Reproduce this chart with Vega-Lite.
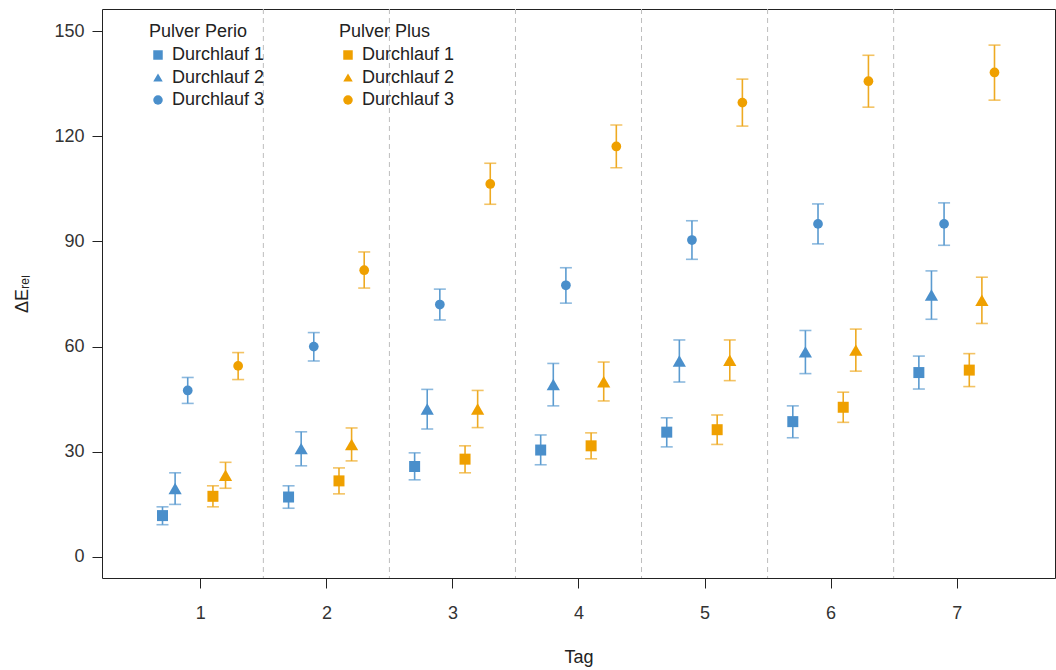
{
  "$schema": "https://vega.github.io/schema/vega-lite/v6.json",
  "autosize": "none",
  "width": 953,
  "height": 569,
  "padding": {"left": 102, "top": 9, "right": 1, "bottom": 92},
  "background": "white",
  "config": {
    "font": "Liberation Sans",
    "view": {"stroke": "#222222", "strokeWidth": 1},
    "axis": {"grid": false, "domain": false, "tickColor": "#222222", "tickSize": 10, "labelFont": "Liberation Sans", "labelFontSize": 18, "labelColor": "#333333", "titleFont": "Liberation Sans", "titleFontSize": 18, "titleFontWeight": "normal", "titleColor": "#222222"},
    "legend": {"labelFont": "Liberation Sans", "labelFontSize": 18, "labelColor": "#222222", "titleFont": "Liberation Sans", "titleFontSize": 18, "titleFontWeight": "normal", "titleColor": "#222222", "symbolSize": 90, "rowPadding": 4.5, "labelOffset": 5, "titlePadding": 5, "padding": 0}
  },
  "datasets": {
    "sep": [{"s": 1.5}, {"s": 2.5}, {"s": 3.5}, {"s": 4.5}, {"s": 5.5}, {"s": 6.5}],
    "pts": [
      {"tag": 1, "group": "Pulver Perio", "lauf": "Durchlauf 1", "run": 1, "mean": 11.8, "lo": 9.2, "hi": 14.3},
      {"tag": 1, "group": "Pulver Perio", "lauf": "Durchlauf 2", "run": 2, "mean": 19.5, "lo": 15.0, "hi": 24.0},
      {"tag": 1, "group": "Pulver Perio", "lauf": "Durchlauf 3", "run": 3, "mean": 47.5, "lo": 43.8, "hi": 51.2},
      {"tag": 2, "group": "Pulver Perio", "lauf": "Durchlauf 1", "run": 1, "mean": 17.1, "lo": 13.9, "hi": 20.3},
      {"tag": 2, "group": "Pulver Perio", "lauf": "Durchlauf 2", "run": 2, "mean": 30.9, "lo": 26.0, "hi": 35.7},
      {"tag": 2, "group": "Pulver Perio", "lauf": "Durchlauf 3", "run": 3, "mean": 60.0, "lo": 55.9, "hi": 64.0},
      {"tag": 3, "group": "Pulver Perio", "lauf": "Durchlauf 1", "run": 1, "mean": 25.8, "lo": 22.0, "hi": 29.7},
      {"tag": 3, "group": "Pulver Perio", "lauf": "Durchlauf 2", "run": 2, "mean": 42.2, "lo": 36.5, "hi": 47.8},
      {"tag": 3, "group": "Pulver Perio", "lauf": "Durchlauf 3", "run": 3, "mean": 72.0, "lo": 67.6, "hi": 76.4},
      {"tag": 4, "group": "Pulver Perio", "lauf": "Durchlauf 1", "run": 1, "mean": 30.5, "lo": 26.3, "hi": 34.8},
      {"tag": 4, "group": "Pulver Perio", "lauf": "Durchlauf 2", "run": 2, "mean": 49.2, "lo": 43.1, "hi": 55.2},
      {"tag": 4, "group": "Pulver Perio", "lauf": "Durchlauf 3", "run": 3, "mean": 77.5, "lo": 72.4, "hi": 82.5},
      {"tag": 5, "group": "Pulver Perio", "lauf": "Durchlauf 1", "run": 1, "mean": 35.6, "lo": 31.4, "hi": 39.7},
      {"tag": 5, "group": "Pulver Perio", "lauf": "Durchlauf 2", "run": 2, "mean": 55.9, "lo": 49.9, "hi": 61.9},
      {"tag": 5, "group": "Pulver Perio", "lauf": "Durchlauf 3", "run": 3, "mean": 90.4, "lo": 84.9, "hi": 95.9},
      {"tag": 6, "group": "Pulver Perio", "lauf": "Durchlauf 1", "run": 1, "mean": 38.6, "lo": 34.0, "hi": 43.1},
      {"tag": 6, "group": "Pulver Perio", "lauf": "Durchlauf 2", "run": 2, "mean": 58.5, "lo": 52.3, "hi": 64.6},
      {"tag": 6, "group": "Pulver Perio", "lauf": "Durchlauf 3", "run": 3, "mean": 95.0, "lo": 89.3, "hi": 100.7},
      {"tag": 7, "group": "Pulver Perio", "lauf": "Durchlauf 1", "run": 1, "mean": 52.6, "lo": 47.9, "hi": 57.3},
      {"tag": 7, "group": "Pulver Perio", "lauf": "Durchlauf 2", "run": 2, "mean": 74.7, "lo": 67.8, "hi": 81.6},
      {"tag": 7, "group": "Pulver Perio", "lauf": "Durchlauf 3", "run": 3, "mean": 95.0, "lo": 88.9, "hi": 101.0},
      {"tag": 1, "group": "Pulver Plus", "lauf": "Durchlauf 1", "run": 1, "mean": 17.3, "lo": 14.3, "hi": 20.3},
      {"tag": 1, "group": "Pulver Plus", "lauf": "Durchlauf 2", "run": 2, "mean": 23.3, "lo": 19.6, "hi": 27.0},
      {"tag": 1, "group": "Pulver Plus", "lauf": "Durchlauf 3", "run": 3, "mean": 54.5, "lo": 50.6, "hi": 58.3},
      {"tag": 2, "group": "Pulver Plus", "lauf": "Durchlauf 1", "run": 1, "mean": 21.7, "lo": 18.0, "hi": 25.4},
      {"tag": 2, "group": "Pulver Plus", "lauf": "Durchlauf 2", "run": 2, "mean": 32.1, "lo": 27.4, "hi": 36.8},
      {"tag": 2, "group": "Pulver Plus", "lauf": "Durchlauf 3", "run": 3, "mean": 81.8, "lo": 76.7, "hi": 87.0},
      {"tag": 3, "group": "Pulver Plus", "lauf": "Durchlauf 1", "run": 1, "mean": 27.9, "lo": 24.0, "hi": 31.7},
      {"tag": 3, "group": "Pulver Plus", "lauf": "Durchlauf 2", "run": 2, "mean": 42.2, "lo": 36.9, "hi": 47.5},
      {"tag": 3, "group": "Pulver Plus", "lauf": "Durchlauf 3", "run": 3, "mean": 106.4, "lo": 100.6, "hi": 112.3},
      {"tag": 4, "group": "Pulver Plus", "lauf": "Durchlauf 1", "run": 1, "mean": 31.7, "lo": 28.0, "hi": 35.4},
      {"tag": 4, "group": "Pulver Plus", "lauf": "Durchlauf 2", "run": 2, "mean": 50.0, "lo": 44.5, "hi": 55.6},
      {"tag": 4, "group": "Pulver Plus", "lauf": "Durchlauf 3", "run": 3, "mean": 117.1, "lo": 111.0, "hi": 123.2},
      {"tag": 5, "group": "Pulver Plus", "lauf": "Durchlauf 1", "run": 1, "mean": 36.3, "lo": 32.1, "hi": 40.5},
      {"tag": 5, "group": "Pulver Plus", "lauf": "Durchlauf 2", "run": 2, "mean": 56.1, "lo": 50.3, "hi": 61.9},
      {"tag": 5, "group": "Pulver Plus", "lauf": "Durchlauf 3", "run": 3, "mean": 129.6, "lo": 122.9, "hi": 136.3},
      {"tag": 6, "group": "Pulver Plus", "lauf": "Durchlauf 1", "run": 1, "mean": 42.7, "lo": 38.4, "hi": 47.0},
      {"tag": 6, "group": "Pulver Plus", "lauf": "Durchlauf 2", "run": 2, "mean": 59.0, "lo": 53.0, "hi": 65.0},
      {"tag": 6, "group": "Pulver Plus", "lauf": "Durchlauf 3", "run": 3, "mean": 135.7, "lo": 128.3, "hi": 143.1},
      {"tag": 7, "group": "Pulver Plus", "lauf": "Durchlauf 1", "run": 1, "mean": 53.3, "lo": 48.6, "hi": 58.0},
      {"tag": 7, "group": "Pulver Plus", "lauf": "Durchlauf 2", "run": 2, "mean": 73.2, "lo": 66.6, "hi": 79.8},
      {"tag": 7, "group": "Pulver Plus", "lauf": "Durchlauf 3", "run": 3, "mean": 138.2, "lo": 130.3, "hi": 146.0}
    ]
  },
  "layer": [
    {
      "data": {"name": "sep"},
      "mark": {"type": "rule", "color": "#bdbdbd", "strokeWidth": 1, "strokeDash": [5, 4]},
      "encoding": {
        "x": {"field": "s", "type": "quantitative", "scale": {"domain": [0.22, 7.78], "nice": false, "zero": false},
          "axis": {"values": [1, 2, 3, 4, 5, 6, 7], "title": "Tag", "labelPadding": 16, "titlePadding": 26, "format": "d"}}
      }
    },
    {
      "data": {"name": "pts"},
      "transform": [{"calculate": "datum.tag + (datum.group == 'Pulver Perio' ? -0.4 : 0.0) + datum.run * 0.1", "as": "pos"}],
      "layer": [
        {
          "mark": {"type": "rule", "strokeWidth": 1.6},
          "encoding": {
            "x": {"field": "pos", "type": "quantitative"},
            "y": {"field": "lo", "type": "quantitative"},
            "y2": {"field": "hi"},
            "color": {"field": "group", "type": "nominal", "scale": {"domain": ["Pulver Perio", "Pulver Plus"], "range": ["#5b9bd0", "#eeaa22"]}, "legend": null}
          }
        },
        {
          "mark": {"type": "tick", "orient": "horizontal", "size": 12, "thickness": 1.6},
          "encoding": {
            "x": {"field": "pos", "type": "quantitative"},
            "y": {"field": "lo", "type": "quantitative"},
            "color": {"field": "group", "type": "nominal", "legend": null}
          }
        },
        {
          "mark": {"type": "tick", "orient": "horizontal", "size": 12, "thickness": 1.6},
          "encoding": {
            "x": {"field": "pos", "type": "quantitative"},
            "y": {"field": "hi", "type": "quantitative"},
            "color": {"field": "group", "type": "nominal", "legend": null}
          }
        },
        {
          "transform": [{"filter": "datum.group == 'Pulver Perio'"}],
          "mark": {"type": "point", "filled": true, "opacity": 1, "color": "#4a8fcb"},
          "encoding": {
            "x": {"field": "pos", "type": "quantitative"},
            "y": {"field": "mean", "type": "quantitative"},
            "shape": {"field": "lauf", "type": "nominal", "scale": {"domain": ["Durchlauf 1", "Durchlauf 2", "Durchlauf 3"], "range": ["square", "triangle-up", "circle"]},
              "legend": {"title": "Pulver Perio", "orient": "none", "legendX": 47, "legendY": 14, "symbolFillColor": "#4a8fcb", "symbolStrokeColor": "#4a8fcb"}},
            "size": {"field": "lauf", "type": "nominal", "scale": {"type": "ordinal", "domain": ["Durchlauf 1", "Durchlauf 2", "Durchlauf 3"], "range": [121, 175, 95]}, "legend": null}
          }
        },
        {
          "transform": [{"filter": "datum.group == 'Pulver Plus'"}],
          "mark": {"type": "point", "filled": true, "opacity": 1, "color": "#efa000"},
          "encoding": {
            "x": {"field": "pos", "type": "quantitative"},
            "y": {"field": "mean", "type": "quantitative"},
            "shape": {"field": "lauf", "type": "nominal", "scale": {"domain": ["Durchlauf 1", "Durchlauf 2", "Durchlauf 3"], "range": ["square", "triangle-up", "circle"]},
              "legend": {"title": "Pulver Plus", "orient": "none", "legendX": 237, "legendY": 14, "symbolFillColor": "#efa000", "symbolStrokeColor": "#efa000"}},
            "size": {"field": "lauf", "type": "nominal", "scale": {"type": "ordinal", "domain": ["Durchlauf 1", "Durchlauf 2", "Durchlauf 3"], "range": [121, 175, 95]}, "legend": null}
          }
        }
      ],
      "encoding": {
        "y": {"field": "mean", "type": "quantitative", "scale": {"domain": [-6, 156.3], "nice": false, "zero": false},
          "axis": {"values": [0, 30, 60, 90, 120, 150], "title": "ΔEᵣₑₗ", "labelPadding": 8, "titlePadding": 22}}
      },
      "resolve": {"scale": {"shape": "independent"}, "legend": {"shape": "independent"}}
    }
  ],
  "resolve": {"scale": {"shape": "independent"}, "legend": {"shape": "independent"}}
}
